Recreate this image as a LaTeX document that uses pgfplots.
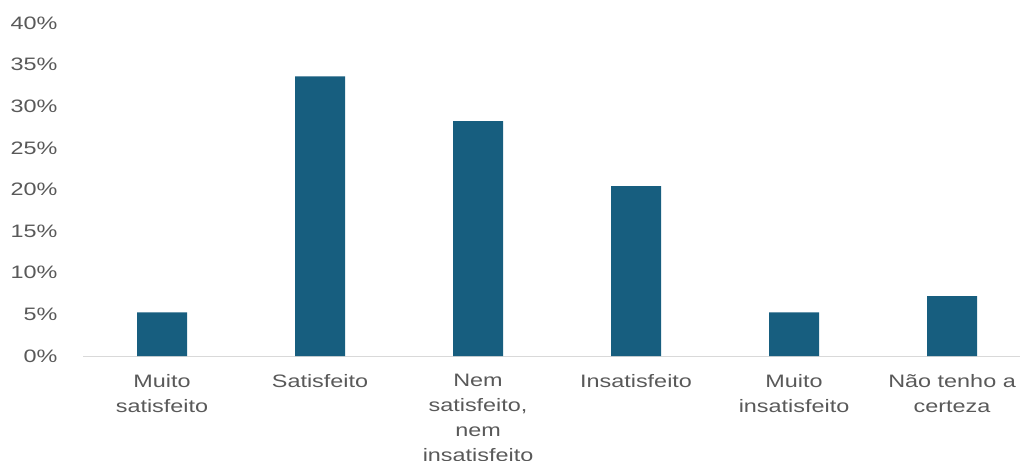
\documentclass[border=0pt]{standalone}
\usepackage{fontspec}
\setmainfont{Liberation Sans}[FakeStretch=1.3]
\usepackage{pgfplots}
\pgfplotsset{compat=1.18}
\definecolor{barc}{RGB}{23,94,127}
\definecolor{txt}{RGB}{89,89,89}
\definecolor{axl}{RGB}{217,217,217}
\begin{document}
\begin{tikzpicture}
\useasboundingbox (-83bp,-105bp) rectangle (937bp,356bp);
\begin{axis}[
  scale only axis, width=937bp, height=333bp,
  at={(0,0)}, anchor=south west,
  xmin=-0.5, xmax=5.43, ymin=0, ymax=40,
  axis lines*=left,
  x axis line style={draw=axl, line width=1bp, -},
  y axis line style={draw=none},
  major tick length=0pt,
  ytick={0,5,...,40},
  yticklabel={\pgfmathprintnumber{\tick}\%},
  xtick={0,...,5},
  xticklabels={Muito\\satisfeito, Satisfeito, {Nem\\satisfeito,\\nem\\insatisfeito}, Insatisfeito, Muito\\insatisfeito, Não tenho a\\certeza},
  tick label style={font=\fontsize{18bp}{25bp}\selectfont, text=txt},
  xticklabel style={align=center, anchor=north, yshift=-15bp},
  yticklabel style={anchor=east, xshift=-22bp},
  /pgf/number format/assume math mode=true,
]
\addplot[ybar, bar width=50bp, fill=barc, draw=none] coordinates {(0,5.25) (1,33.6) (2,28.2) (3,20.4) (4,5.25) (5,7.2)};
\end{axis}
\end{tikzpicture}
\end{document}
